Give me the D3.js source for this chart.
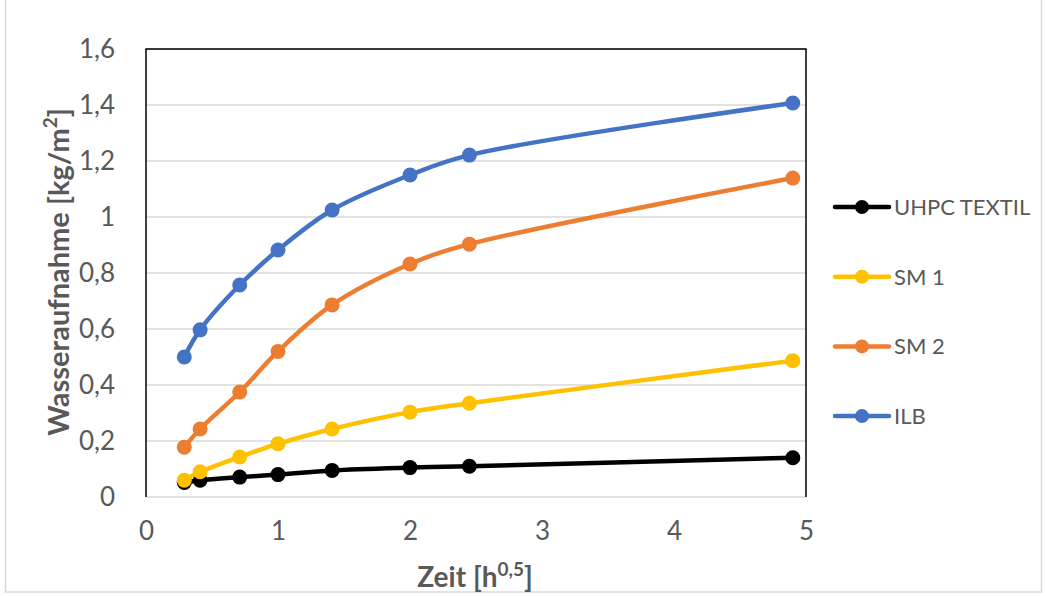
<!DOCTYPE html>
<html>
<head>
<meta charset="utf-8">
<script src="https://cdn.jsdelivr.net/npm/d3@7"></script>
<style>
  body { margin: 0; background: #fff; }
  text { font-family: Lato, "Open Sans", sans-serif; }
</style>
</head>
<body>
<svg id="chart"></svg>
<script>
// x = sqrt of time in hours
var zeit = [0.29, 0.41, 0.71, 1, 1.41, 2, 2.45, 4.9];
var uhpcTextil = [0.052, 0.06, 0.071, 0.08, 0.095, 0.105, 0.11, 0.14];
var sm1 = [0.06, 0.09, 0.143, 0.19, 0.243, 0.303, 0.335, 0.487];
var sm2 = [0.178, 0.243, 0.375, 0.52, 0.686, 0.832, 0.903, 1.139];
var ilb = [0.5, 0.597, 0.757, 0.882, 1.025, 1.15, 1.221, 1.407];
var seriesNames = ["UHPC TEXTIL", "SM 1", "SM 2", "ILB"];
var seriesColors = ["#000000", "#ffc000", "#ed7d31", "#4472c4"];
var yTicks = [0, 0.2, 0.4, 0.6, 0.8, 1, 1.2, 1.4, 1.6];
var xTicks = [0, 1, 2, 3, 4, 5];

var svgWidth = 1046, svgHeight = 596;
var margin = { top: 49, right: 240, bottom: 99, left: 146 };
var width = svgWidth - margin.left - margin.right;
var height = svgHeight - margin.top - margin.bottom;

var svg = d3.select("#chart")
    .attr("width", svgWidth)
    .attr("height", svgHeight);

// outer frame
svg.append("rect")
    .attr("x", 5.5).attr("y", -2)
    .attr("width", 1036).attr("height", 594)
    .attr("fill", "none")
    .attr("stroke", "#d9d9d9")
    .attr("stroke-width", 1.5);

var g = svg.append("g")
    .attr("transform", "translate(" + margin.left + "," + margin.top + ")");

var x = d3.scaleLinear().domain([0, 5]).range([0, width]);
var y = d3.scaleLinear().domain([0, 1.6]).range([height, 0]);

var fmt = function(d) { return String(d).replace(".", ","); };

// gridlines
g.append("g")
    .selectAll("line")
    .data(yTicks.slice(1))
    .join("line")
    .attr("x1", 0).attr("x2", width)
    .attr("y1", function(d) { return y(d); })
    .attr("y2", function(d) { return y(d); })
    .attr("stroke", "#d9d9d9")
    .attr("stroke-width", 1.5);

// y axis labels
var yAxis = g.append("g")
    .call(d3.axisLeft(y).tickValues(yTicks).tickFormat(fmt).tickSize(0).tickPadding(31));
yAxis.select(".domain").remove();
yAxis.selectAll("text")
    .attr("fill", "#595959")
    .style("font-size", "26px");

// x axis labels
var xAxis = g.append("g")
    .attr("transform", "translate(0," + height + ")")
    .call(d3.axisBottom(x).tickValues(xTicks).tickFormat(fmt).tickSize(0).tickPadding(25));
xAxis.select(".domain").remove();
xAxis.selectAll("text")
    .attr("fill", "#595959")
    .style("font-size", "26px");

// plot border
g.append("line")
    .attr("x1", 0).attr("x2", width)
    .attr("y1", height).attr("y2", height)
    .attr("stroke", "#d9d9d9").attr("stroke-width", 1.5);
g.append("path")
    .attr("d", "M0," + height + "V0H" + width + "V" + height)
    .attr("fill", "none")
    .attr("stroke", "#000")
    .attr("stroke-width", 1.5);

// axis titles
svg.append("text")
    .attr("x", 475)
    .attr("y", 587)
    .attr("text-anchor", "middle")
    .attr("fill", "#595959")
    .style("font-size", "28px")
    .style("font-weight", "bold")
    .html('Zeit [h<tspan dy="-11" font-size="19px">0,5</tspan><tspan dy="11">]</tspan>');

svg.append("text")
    .attr("transform", "translate(69,272) rotate(-90)")
    .attr("text-anchor", "middle")
    .attr("fill", "#595959")
    .style("font-size", "29px")
    .style("font-weight", "bold")
    .html('Wasseraufnahme [kg/m<tspan dy="-12" font-size="19px">2</tspan><tspan dy="12">]</tspan>');

// series
var allSeries = [uhpcTextil, sm1, sm2, ilb];
var line = d3.line()
    .x(function(d) { return x(d.x); })
    .y(function(d) { return y(d.y); })
    .curve(d3.curveCatmullRom.alpha(0.5));

allSeries.forEach(function(vals, i) {
    var pts = zeit.map(function(z, k) { return { x: z, y: vals[k] }; });
    var s = g.append("g");
    s.append("path")
        .datum(pts)
        .attr("fill", "none")
        .attr("stroke", seriesColors[i])
        .attr("stroke-width", 4.5)
        .attr("stroke-linecap", "round")
        .attr("d", line);
    s.selectAll("circle")
        .data(pts)
        .join("circle")
        .attr("cx", function(d) { return x(d.x); })
        .attr("cy", function(d) { return y(d.y); })
        .attr("r", 7.5)
        .attr("fill", seriesColors[i]);
});

// legend
var legend = svg.append("g");
seriesNames.forEach(function(name, i) {
    var ly = 207 + i * 69.7;
    legend.append("line")
        .attr("x1", 835).attr("x2", 889)
        .attr("y1", ly).attr("y2", ly)
        .attr("stroke", seriesColors[i])
        .attr("stroke-width", 4.5)
        .attr("stroke-linecap", "round");
    legend.append("circle")
        .attr("cx", 862).attr("cy", ly).attr("r", 7)
        .attr("fill", seriesColors[i]);
    legend.append("text")
        .attr("x", 894).attr("y", ly)
        .attr("dy", "0.36em")
        .attr("fill", "#595959")
        .style("font-size", "22px")
        .text(name);
});
</script>
</body>
</html>
